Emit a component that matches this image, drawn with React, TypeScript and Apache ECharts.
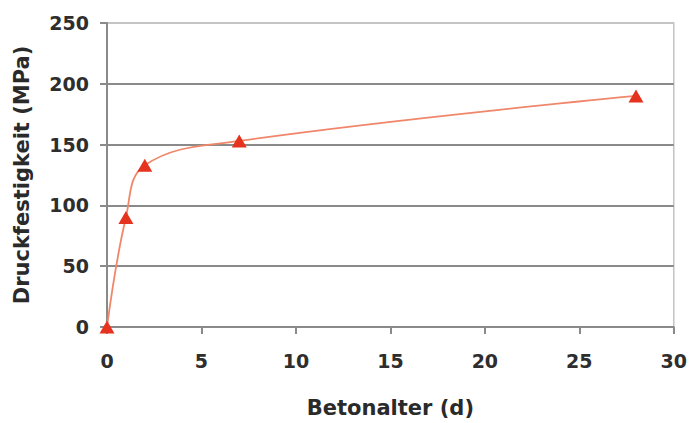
import React, { useEffect, useRef } from "react";
import * as echarts from "echarts";

const ageDays = [0, 1, 2, 7, 28];
const strengthMPa = [0, 90, 133, 153, 190];
const xTicks = [0, 5, 10, 15, 20, 25, 30];
const yTicks = [0, 50, 100, 150, 200, 250];
const xAxisTitle = "Betonalter (d)";
const yAxisTitle = "Druckfestigkeit (MPa)";

export default function App() {
  const ref = useRef<HTMLDivElement>(null);
  useEffect(() => {
    if (!ref.current) return;
    const chart = echarts.init(ref.current, undefined, { renderer: "svg" });
    const font = "DejaVu Sans";
    chart.setOption({
      animation: false,
      backgroundColor: "#ffffff",
      grid: {
        left: 107,
        right: 15,
        top: 23,
        bottom: 93,
        show: true,
        borderColor: "#c4c4c4",
        borderWidth: 1.5,
        backgroundColor: "#ffffff",
      },
      xAxis: {
        type: "value",
        min: xTicks[0],
        max: xTicks[xTicks.length - 1],
        interval: xTicks[1] - xTicks[0],
        name: xAxisTitle,
        nameLocation: "middle",
        nameGap: 70,
        nameTextStyle: { fontFamily: font, fontWeight: "bold", fontSize: 21, color: "#2a2a2a" },
        axisLine: { show: true, lineStyle: { color: "#8a8a8a", width: 2 } },
        axisTick: { show: true, length: 7, lineStyle: { color: "#8a8a8a", width: 2 } },
        axisLabel: { margin: 24, fontFamily: font, fontWeight: "bold", fontSize: 19, color: "#2e2e2e" },
        splitLine: { show: false },
      },
      yAxis: {
        type: "value",
        min: yTicks[0],
        max: yTicks[yTicks.length - 1],
        interval: yTicks[1] - yTicks[0],
        name: yAxisTitle,
        nameLocation: "middle",
        nameGap: 75,
        nameTextStyle: { fontFamily: font, fontWeight: "bold", fontSize: 21, color: "#2a2a2a" },
        axisLine: { show: true, lineStyle: { color: "#8a8a8a", width: 2 } },
        axisTick: { show: true, length: 7, lineStyle: { color: "#8a8a8a", width: 2 } },
        axisLabel: { margin: 18, fontFamily: font, fontWeight: "bold", fontSize: 19, color: "#2e2e2e" },
        splitLine: {
          show: true,
          lineStyle: {
            color: ["#8a8a8a", "#8a8a8a", "#8a8a8a", "#8a8a8a", "#8a8a8a", "#c4c4c4"],
            width: 2,
          },
        },
      },
      series: [
        {
          type: "line",
          data: ageDays.map((d, i) => [d, strengthMPa[i]]),
          smooth: 0.4,
          symbol: "triangle",
          symbolSize: [15, 13],
          showAllSymbol: true,
          lineStyle: { color: "#f0876a", width: 1.8 },
          itemStyle: { color: "#e5331f", borderWidth: 0 },
        },
      ],
    });
    return () => chart.dispose();
  }, []);
  return (
    <div
      ref={ref}
      style={{ position: "fixed", left: 0, top: 0, width: 690, height: 423 }}
    />
  );
}
